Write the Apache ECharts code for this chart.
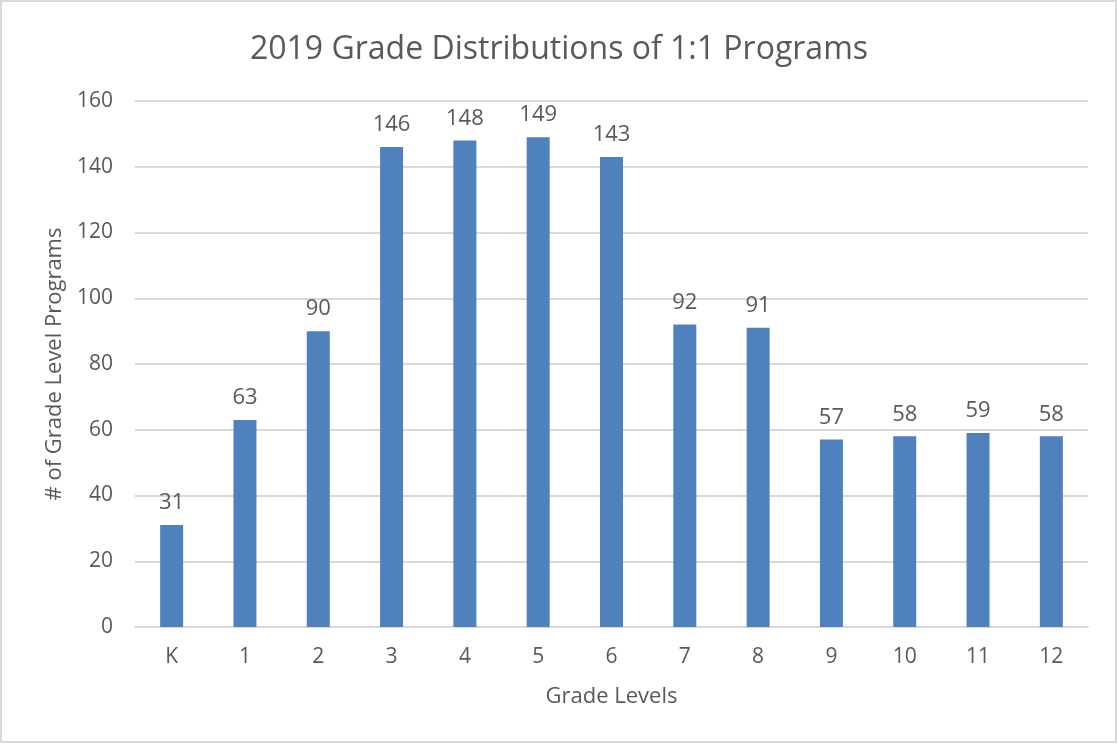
<!DOCTYPE html>
<html>
<head>
<meta charset="utf-8">
<script src="https://cdn.jsdelivr.net/npm/echarts@6/dist/echarts.min.js"></script>
<style>
  html, body { margin: 0; padding: 0; background: #fff; }
  #chart { width: 1118px; height: 744px; }
</style>
</head>
<body>
<div id="chart"></div>
<script>
// data
const gradeLevels = ['K', '1', '2', '3', '4', '5', '6', '7', '8', '9', '10', '11', '12'];
const programCounts = [31, 63, 90, 146, 148, 149, 143, 92, 91, 57, 58, 59, 58];

const chart = echarts.init(document.getElementById('chart'));
const font = '"Open Sans", "Noto Sans", sans-serif';
const grey = '#595959';

chart.setOption({
  animation: false,
  backgroundColor: '#fff',
  textStyle: { fontFamily: font },
  graphic: [{
    type: 'rect',
    shape: { x: 1, y: 1, width: 1115, height: 741 },
    style: { fill: 'none', stroke: '#d9d9d9', lineWidth: 2 },
    silent: true,
  }],
  title: {
    text: '2019 Grade Distributions of 1:1 Programs',
    left: 'center',
    top: 29,
    textStyle: { fontFamily: font, fontSize: 32, fontWeight: 'normal', color: grey },
  },
  grid: { left: 135, right: 30, top: 101, bottom: 117 },
  xAxis: {
    type: 'category',
    data: gradeLevels,
    name: 'Grade Levels',
    nameLocation: 'middle',
    nameGap: 59,
    nameTextStyle: { fontFamily: font, fontSize: 22, color: grey },
    axisLine: { lineStyle: { color: '#d9d9d9', width: 2 } },
    axisTick: { show: false },
    axisLabel: { fontFamily: font, fontSize: 21, color: grey, margin: 20 },
  },
  yAxis: {
    type: 'value',
    min: 0,
    max: 160,
    interval: 20,
    name: '# of Grade Level Programs',
    nameLocation: 'middle',
    nameGap: 69,
    nameTextStyle: { fontFamily: font, fontSize: 22, color: grey },
    axisLine: { show: false },
    axisTick: { show: false },
    axisLabel: { fontFamily: font, fontSize: 21, color: grey, margin: 22 },
    splitLine: { lineStyle: { color: '#d9d9d9', width: 2 } },
  },
  series: [{
    type: 'bar',
    data: programCounts,
    barWidth: 23,
    itemStyle: { color: '#4f81bd' },
    label: {
      show: true,
      position: 'top',
      distance: 11,
      fontFamily: font,
      fontSize: 22,
      color: grey,
    },
  }],
});
</script>
</body>
</html>
